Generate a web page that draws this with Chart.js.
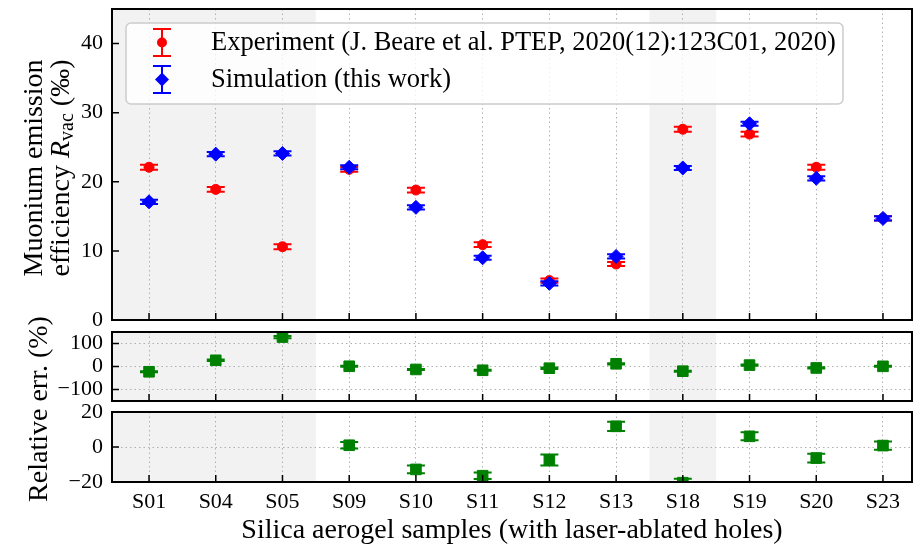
<!DOCTYPE html>
<html lang="en">
<head>
<meta charset="utf-8">
<title>Muonium emission efficiency</title>
<script src="https://cdn.jsdelivr.net/npm/chart.js@4.4.1/dist/chart.umd.min.js"></script>
<style>
  html, body { margin: 0; padding: 0; background: #fff; }
  #figure { position: relative; width: 913px; height: 545px; }
  #figure canvas { position: absolute; left: 0; top: 0; }
</style>
</head>
<body>
<div id="figure">
  <canvas id="effChart" width="913" height="545"></canvas>
  <canvas id="relChart" width="913" height="545"></canvas>
  <canvas id="relZoomChart" width="913" height="545"></canvas>
</div>
<script>
// samples and measured / simulated values
const samples = ['S01', 'S04', 'S05', 'S09', 'S10', 'S11', 'S12', 'S13', 'S18', 'S19', 'S20', 'S23'];
const experiment = [22.1, 18.9, 10.6, 21.8, 18.8, 10.9, 5.7, 8.1, 27.6, 26.9, 22.1, 14.7];
const experimentErr = [0.35, 0.35, 0.35, 0.35, 0.35, 0.35, 0.3, 0.3, 0.35, 0.35, 0.35, 0.3];
const simulation = [17.1, 24.0, 24.1, 22.1, 16.3, 9.0, 5.3, 9.2, 22.0, 28.4, 20.5, 14.7];
const simulationErr = [0.3, 0.3, 0.3, 0.3, 0.3, 0.3, 0.3, 0.3, 0.3, 0.3, 0.3, 0.3];
const relErr = [-22.9, 27.0, 128.0, 1.0, -12.8, -16.4, -7.4, 11.8, -20.4, 6.1, -6.3, 0.8];
const relErrUnc = [2.4, 3.0, 5.0, 1.8, 2.2, 1.9, 3.1, 2.7, 2.2, 2.3, 2.5, 2.3];

// samples with laser-ablated holes shaded (x in sample index units)
const shadedRanges = [[-1, 2.5], [7.5, 8.5]];

const effTicks = [0, 10, 20, 30, 40];
const relTicks = [-100, 0, 100];
const relZoomTicks = [-20, 0, 20];

const xTitle = 'Silica aerogel samples (with laser-ablated holes)';

const FONT = '"Liberation Serif", "Times New Roman", serif';
const GRID = '#b0b0b0';
const Y_AXIS_W = 112;
const X_MIN = -0.555, X_MAX = 11.435;

const toPoints = vals => vals.map((v, i) => ({ x: i, y: v }));
const fmt = v => (v < 0 ? '\u2212' + Math.abs(v) : String(v));
const zeroPad = s => { s.paddingTop = s.paddingBottom = s.paddingLeft = s.paddingRight = 0; };

function drawLegend(chart) {
  const ctx = chart.ctx;
  const L = { x: 126, y: 23, w: 717, h: 81, r: 5 };
  ctx.save();
  ctx.beginPath();
  ctx.moveTo(L.x + L.r, L.y);
  ctx.arcTo(L.x + L.w, L.y, L.x + L.w, L.y + L.h, L.r);
  ctx.arcTo(L.x + L.w, L.y + L.h, L.x, L.y + L.h, L.r);
  ctx.arcTo(L.x, L.y + L.h, L.x, L.y, L.r);
  ctx.arcTo(L.x, L.y, L.x + L.w, L.y, L.r);
  ctx.closePath();
  ctx.fillStyle = 'rgba(255,255,255,0.8)';
  ctx.fill();
  ctx.strokeStyle = '#cccccc';
  ctx.lineWidth = 1.5;
  ctx.stroke();

  chart.data.datasets.forEach((ds, i) => {
    const cx = L.x + 36;
    const cy = L.y + 19.5 + i * 37;
    ctx.strokeStyle = ds.borderColor;
    ctx.fillStyle = ds.backgroundColor;
    ctx.lineWidth = 2;
    ctx.beginPath();
    ctx.moveTo(cx, cy - 13.5); ctx.lineTo(cx, cy + 13.5);
    ctx.moveTo(cx - 9, cy - 13.5); ctx.lineTo(cx + 9, cy - 13.5);
    ctx.moveTo(cx - 9, cy + 13.5); ctx.lineTo(cx + 9, cy + 13.5);
    ctx.stroke();
    ctx.beginPath();
    if (ds.pointStyle === 'rectRot') {
      const r = ds.pointRadius;
      ctx.moveTo(cx - r, cy); ctx.lineTo(cx, cy - r); ctx.lineTo(cx + r, cy); ctx.lineTo(cx, cy + r);
      ctx.closePath();
    } else {
      ctx.arc(cx, cy, ds.pointRadius, 0, Math.PI * 2);
    }
    ctx.fill();

    ctx.fillStyle = '#000';
    ctx.font = '26.5px ' + FONT;
    ctx.textAlign = 'left';
    ctx.textBaseline = 'middle';
    ctx.fillText(ds.label, L.x + 85, cy + 1);
  });
  ctx.restore();
}

// rotated axis title built from pieces (for italic / subscript parts)
function drawRotated(ctx, cx, cy, parts) {
  ctx.save();
  ctx.translate(cx, cy);
  ctx.rotate(-Math.PI / 2);
  ctx.fillStyle = '#000';
  ctx.textAlign = 'left';
  ctx.textBaseline = 'middle';
  let total = 0;
  parts.forEach(p => { ctx.font = p.font; p.w = ctx.measureText(p.text).width; total += p.w; });
  let pos = -total / 2;
  parts.forEach(p => { ctx.font = p.font; ctx.fillText(p.text, pos, p.dy || 0); pos += p.w; });
  ctx.restore();
}

const decor = {
  id: 'decor',
  beforeDraw(chart) {
    const { ctx, chartArea: a, scales: { x } } = chart;
    ctx.save();
    ctx.fillStyle = '#f2f2f2';
    shadedRanges.forEach(([from, to]) => {
      const x0 = Math.max(a.left, x.getPixelForValue(from));
      const x1 = Math.min(a.right, x.getPixelForValue(to));
      ctx.fillRect(x0, a.top, x1 - x0, a.bottom - a.top);
    });
    ctx.restore();
  },
  beforeDatasetDraw(chart, args) {
    const ds = chart.data.datasets[args.index];
    if (!ds.errors) return;
    const { ctx, chartArea: a, scales: { x, y } } = chart;
    ctx.save();
    ctx.beginPath();
    ctx.rect(a.left, a.top, a.right - a.left, a.bottom - a.top);
    ctx.clip();
    ctx.strokeStyle = ds.borderColor;
    ctx.lineWidth = 2;
    ctx.beginPath();
    ds.data.forEach((p, i) => {
      const px = x.getPixelForValue(p.x);
      const hi = y.getPixelForValue(p.y + ds.errors[i]);
      const lo = y.getPixelForValue(p.y - ds.errors[i]);
      ctx.moveTo(px, hi); ctx.lineTo(px, lo);
      ctx.moveTo(px - 9, hi); ctx.lineTo(px + 9, hi);
      ctx.moveTo(px - 9, lo); ctx.lineTo(px + 9, lo);
    });
    ctx.stroke();
    ctx.restore();
  },
  afterDatasetsDraw(chart, args, opts) {
    const { ctx, chartArea: a, scales: { x, y } } = chart;
    ctx.save();
    // inward tick marks
    ctx.strokeStyle = '#000';
    ctx.lineWidth = 1.5;
    ctx.beginPath();
    x.ticks.forEach(t => {
      const px = x.getPixelForValue(t.value);
      ctx.moveTo(px, a.bottom); ctx.lineTo(px, a.bottom - 7);
    });
    y.ticks.forEach(t => {
      const py = y.getPixelForValue(t.value);
      ctx.moveTo(a.left, py); ctx.lineTo(a.left + 7, py);
    });
    ctx.stroke();
    // frame
    ctx.lineWidth = 2;
    ctx.strokeRect(a.left, a.top, a.right - a.left, a.bottom - a.top);
    ctx.restore();
    if (opts.legend) drawLegend(chart);
  },
  afterDraw(chart, args, opts) {
    const ctx = chart.ctx;
    const f = '28px ' + FONT;
    if (opts.yTitle === 'eff') {
      drawRotated(ctx, 35, 168, [{ text: 'Muonium emission', font: f }]);
      drawRotated(ctx, 62, 168, [
        { text: 'efficiency ', font: f },
        { text: 'R', font: 'italic ' + f },
        { text: 'vac', font: '20px ' + FONT, dy: 6 },
        { text: ' (\u2030)', font: f }
      ]);
    } else if (opts.yTitle === 'rel') {
      drawRotated(ctx, 40, 409, [{ text: 'Relative err. (%)', font: f }]);
    }
  }
};

function makePanel(id, p) {
  return new Chart(document.getElementById(id), {
    type: 'scatter',
    data: { datasets: p.datasets },
    plugins: [decor],
    options: {
      responsive: false,
      animation: false,
      events: [],
      layout: { autoPadding: false, padding: { left: 0, right: 1, top: p.top, bottom: p.bottom } },
      plugins: {
        legend: { display: false },
        tooltip: { enabled: false },
        decor: { legend: !!p.legend, yTitle: p.yTitle || '' }
      },
      scales: {
        x: {
          type: 'linear',
          min: X_MIN,
          max: X_MAX,
          afterBuildTicks: s => { s.ticks = samples.map((_, i) => ({ value: i })); },
          afterFit: s => { s.height = p.xHeight; zeroPad(s); },
          grid: { color: GRID, lineWidth: 1, drawTicks: false },
          border: { display: false, dash: [1.5, 3] },
          ticks: {
            display: p.xLabels,
            autoSkip: false,
            maxRotation: 0,
            padding: 7,
            color: '#000',
            font: { family: FONT, size: 22 },
            callback: v => samples[v]
          },
          title: {
            display: p.xLabels,
            text: xTitle,
            color: '#000',
            font: { family: FONT, size: 28, lineHeight: 1.05 },
            padding: { top: 0, bottom: 0 }
          }
        },
        y: {
          min: p.yMin,
          max: p.yMax,
          afterBuildTicks: s => { s.ticks = p.yTicks.map(v => ({ value: v })); },
          afterFit: s => { s.width = Y_AXIS_W; zeroPad(s); },
          grid: { display: p.yGrid, color: GRID, lineWidth: 1, drawTicks: false },
          border: { display: false, dash: [1.5, 3] },
          ticks: {
            padding: 9,
            color: '#000',
            font: { family: FONT, size: 22 },
            callback: v => fmt(v)
          }
        }
      }
    }
  });
}

const greenSet = () => ({
  label: 'Relative err.',
  data: toPoints(relErr),
  errors: relErrUnc,
  pointStyle: 'rect',
  pointRadius: 7.5,
  backgroundColor: '#008000',
  borderColor: '#008000',
  borderWidth: 1,
  clip: 0
});

makePanel('effChart', {
  top: 9, bottom: 225, xHeight: 0, xLabels: false,
  yMin: 0, yMax: 45, yTicks: effTicks, yGrid: false,
  legend: true, yTitle: 'eff',
  datasets: [
    {
      label: 'Experiment (J. Beare et al. PTEP, 2020(12):123C01, 2020)',
      data: toPoints(experiment),
      errors: experimentErr,
      pointStyle: 'circle',
      pointRadius: 5,
      backgroundColor: '#ff0000',
      borderColor: '#ff0000',
      borderWidth: 1,
      order: 2,
      clip: 0
    },
    {
      label: 'Simulation (this work)',
      data: toPoints(simulation),
      errors: simulationErr,
      pointStyle: 'rectRot',
      pointRadius: 7,
      backgroundColor: '#0000ff',
      borderColor: '#0000ff',
      borderWidth: 1,
      order: 1,
      clip: 0
    }
  ]
});

makePanel('relChart', {
  top: 332, bottom: 144, xHeight: 0, xLabels: false,
  yMin: -150, yMax: 150, yTicks: relTicks, yGrid: true,
  datasets: [greenSet()]
});

makePanel('relZoomChart', {
  top: 412, bottom: 0, xHeight: 63, xLabels: true,
  yMin: -20, yMax: 20, yTicks: relZoomTicks, yGrid: true,
  yTitle: 'rel',
  datasets: [greenSet()]
});
</script>
</body>
</html>
